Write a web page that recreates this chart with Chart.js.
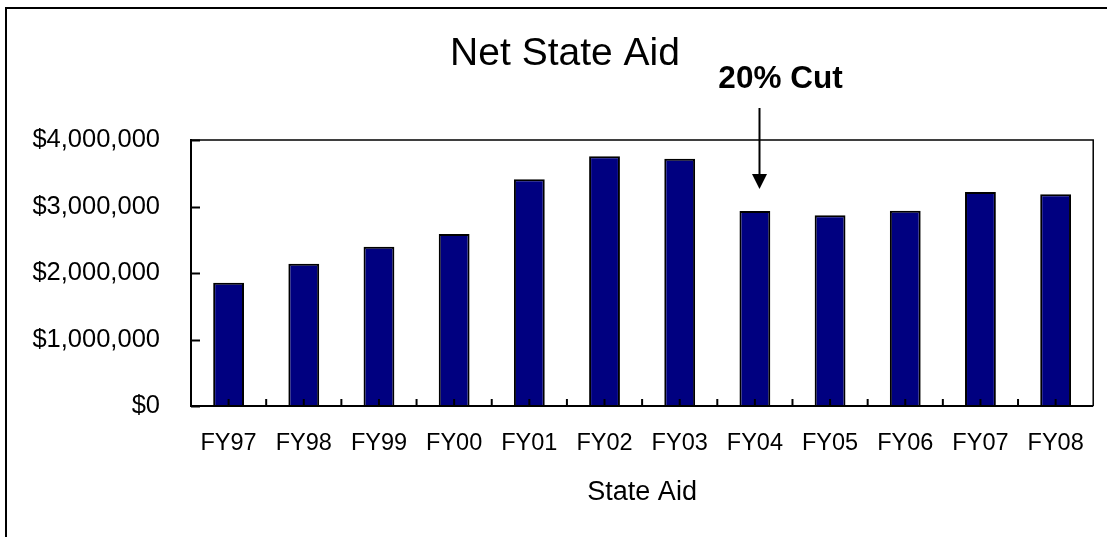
<!DOCTYPE html>
<html>
<head>
<meta charset="utf-8">
<script src="https://cdn.jsdelivr.net/npm/chart.js@4/dist/chart.umd.min.js"></script>
<style>
  body { margin: 0; background: #fff; }
  #box { width: 1107px; height: 537px; position: relative; }
</style>
</head>
<body>
<div id="box"><canvas id="chartAid"></canvas></div>
<script>
// dados do grafico
var anos = ['FY97', 'FY98', 'FY99', 'FY00', 'FY01', 'FY02', 'FY03', 'FY04', 'FY05', 'FY06', 'FY07', 'FY08'];
var ajuda = [1855000, 2140000, 2395000, 2586000, 3409000, 3755000, 3719000, 2932000, 2868000, 2937000, 3218000, 3184000];
var ticksY = [0, 1000000, 2000000, 3000000, 4000000];
var titulo = 'Net State Aid';
var tituloEixo = 'State Aid';
var textoCorte = '20% Cut';
var anoCorte = 'FY04';

var fonte = '"Liberation Sans", Arial, sans-serif';

function dinheiro(v) {
  return '$' + Number(v).toLocaleString('en-US');
}

// moldura, textos, seta e os tracinhos dos eixos
var extras = {
  id: 'extras',
  afterDatasetsDraw: function(chart) {
    var ctx = chart.ctx;
    var a = chart.chartArea;
    var x = chart.scales.x;
    var y = chart.scales.y;
    var i, px;

    ctx.save();
    ctx.strokeStyle = '#000';

    // borda do grafico inteiro
    ctx.lineWidth = 2;
    ctx.strokeRect(6, 8, 1200, 600);

    // caixa da area de plotagem
    ctx.lineWidth = 1.5;
    ctx.beginPath();
    ctx.moveTo(a.left, a.top);
    ctx.lineTo(a.right, a.top);
    ctx.lineTo(a.right, a.bottom);
    ctx.stroke();
    ctx.lineWidth = 2;
    ctx.beginPath();
    ctx.moveTo(a.left, a.top - 1);
    ctx.lineTo(a.left, a.bottom);
    ctx.lineTo(a.right, a.bottom);
    ctx.stroke();

    // tracinhos para dentro no eixo Y
    for (i = 0; i < ticksY.length; i++) {
      px = Math.round(y.getPixelForValue(ticksY[i])) + 0.5;
      ctx.beginPath();
      ctx.moveTo(a.left, px);
      ctx.lineTo(a.left + 9, px);
      ctx.stroke();
    }
    // tracinhos no eixo X: centro de cada barra e entre elas
    for (i = 0; i < anos.length; i++) {
      px = x.getPixelForValue(i);
      ctx.beginPath();
      ctx.moveTo(px, a.bottom);
      ctx.lineTo(px, a.bottom - 7);
      ctx.stroke();
      if (i < anos.length - 1) {
        px = (x.getPixelForValue(i) + x.getPixelForValue(i + 1)) / 2;
        ctx.beginPath();
        ctx.moveTo(px, a.bottom);
        ctx.lineTo(px, a.bottom - 7);
        ctx.stroke();
      }
    }

    // titulos
    ctx.fillStyle = '#000';
    ctx.textAlign = 'center';
    ctx.textBaseline = 'alphabetic';
    ctx.font = '39px ' + fonte;
    ctx.fillText(titulo, 565, 65);
    ctx.font = '27px ' + fonte;
    ctx.fillText(tituloEixo, (a.left + a.right) / 2, 500);

    // seta do corte de 20%
    var idx = anos.indexOf(anoCorte);
    var sx = Math.round(x.getPixelForValue(idx)) + 4.5;
    var ponta = y.getPixelForValue(ajuda[idx]) - 22;
    ctx.font = 'bold 31.5px ' + fonte;
    ctx.fillText(textoCorte, sx + 21, 88);
    ctx.lineWidth = 2;
    ctx.beginPath();
    ctx.moveTo(sx, 108);
    ctx.lineTo(sx, ponta - 12);
    ctx.stroke();
    ctx.beginPath();
    ctx.moveTo(sx - 7.5, ponta - 15);
    ctx.lineTo(sx + 7.5, ponta - 15);
    ctx.lineTo(sx, ponta);
    ctx.closePath();
    ctx.fill();

    ctx.restore();
  }
};

var ctx = document.getElementById('chartAid').getContext('2d');
var chart = new Chart(ctx, {
  type: 'bar',
  data: {
    labels: anos,
    datasets: [{
      label: tituloEixo,
      backgroundColor: '#000080',
      borderColor: '#000',
      borderWidth: 2,
      borderSkipped: 'start',
      categoryPercentage: 1,
      barPercentage: 0.41,
      data: ajuda
    }]
  },
  options: {
    responsive: true,
    maintainAspectRatio: false,
    animation: false,
    layout: { padding: { top: 140, right: 7, left: 0, bottom: 0 } },
    plugins: {
      legend: { display: false },
      title: { display: false },
      tooltip: { enabled: false }
    },
    scales: {
      x: {
        grid: { display: false, drawTicks: false },
        border: { display: false },
        afterFit: function(s) { s.height = 131; },
        ticks: {
          color: '#000',
          padding: 23,
          font: { family: fonte, size: 23.5 }
        }
      },
      y: {
        min: 0,
        max: 4000000,
        afterFit: function(s) { s.width = 191; },
        afterBuildTicks: function(s) {
          s.ticks = ticksY.map(function(v) { return { value: v }; });
        },
        grid: { display: false, drawTicks: false },
        border: { display: false },
        ticks: {
          color: '#000',
          padding: 31,
          font: { family: fonte, size: 25.5 },
          callback: function(v) { return dinheiro(v); }
        }
      }
    }
  },
  plugins: [extras]
});
</script>
</body>
</html>
